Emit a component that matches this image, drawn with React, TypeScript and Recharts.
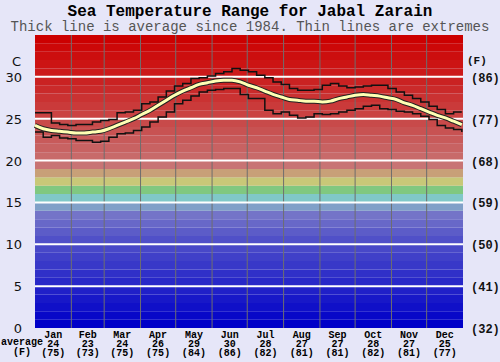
import React from 'react'
import {
	ComposedChart,
	XAxis,
	YAxis,
	Line,
	ReferenceArea,
	ReferenceLine,
} from 'recharts'

// x grid: day of year, one point a week
const days = [
	0, 7, 14, 21, 28, 35, 42, 49, 56, 63, 70, 77, 84, 91, 98, 105, 112, 119, 126,
	133, 140, 147, 154, 161, 168, 175, 182, 189, 196, 203, 210, 217, 224, 231,
	238, 245, 252, 259, 266, 273, 280, 287, 294, 301, 308, 315, 322, 329, 336,
	343, 350, 357, 364,
]

const avgTemp = [
	24.2, 23.8, 23.6, 23.5, 23.4, 23.3, 23.3, 23.4, 23.5, 23.8, 24.2, 24.6, 25.0,
	25.5, 26.0, 26.6, 27.2, 27.8, 28.3, 28.7, 29.1, 29.3, 29.5, 29.6, 29.6, 29.4,
	29.0, 28.7, 28.3, 27.9, 27.6, 27.3, 27.2, 27.1, 27.1, 27.0, 27.1, 27.4, 27.6,
	27.8, 27.9, 27.8, 27.7, 27.5, 27.3, 26.9, 26.6, 26.2, 25.8, 25.4, 25.1, 24.7,
	24.3,
]

const maxTemp = [
	25.7, 25.7, 24.5, 24.3, 24.2, 24.3, 24.3, 24.6, 24.8, 24.9, 25.7, 25.8, 26.0,
	26.8, 27.0, 27.6, 28.3, 28.9, 29.2, 29.8, 29.9, 30.1, 30.4, 30.6, 31.0, 30.8,
	30.6, 30.2, 29.9, 29.4, 29.1, 28.6, 28.4, 28.4, 28.5, 29.0, 29.2, 28.9, 28.7,
	28.8, 28.9, 29.0, 29.0, 28.6, 28.2, 27.8, 27.4, 27.0, 26.5, 26.1, 25.6, 25.8,
	25.8,
]

const minTemp = [
	23.4, 22.8, 23.0, 22.7, 22.6, 22.4, 22.4, 22.2, 22.3, 22.8, 23.2, 23.3, 23.6,
	24.0, 24.6, 25.2, 25.8, 26.8, 27.2, 27.7, 28.2, 28.4, 28.5, 28.6, 28.6, 27.9,
	27.4, 27.4, 26.0, 25.6, 25.8, 25.4, 25.1, 25.2, 25.6, 25.5, 25.6, 25.8, 26.0,
	26.2, 26.5, 26.6, 26.2, 26.1, 25.9, 25.8, 25.6, 25.3, 24.9, 24.2, 23.9, 23.7,
	23.4,
]

const monthNames = ['Jan', 'Feb', 'Mar', 'Apr', 'May', 'Jun', 'Jul', 'Aug', 'Sep', 'Oct', 'Nov', 'Dec']
const monthMid = [15.5, 45, 74.5, 105, 135.5, 166, 196.5, 227.5, 258, 288.5, 319, 349.5]
const monthEdges = [31, 59, 90, 120, 151, 181, 212, 243, 273, 304, 334]
const monthAvgC = [24, 23, 24, 26, 29, 30, 28, 27, 27, 28, 27, 25]
const monthAvgF = [75, 73, 75, 75, 84, 86, 82, 81, 81, 82, 81, 77]

const celsiusTicks = [0, 5, 10, 15, 20, 25, 30]
const fahrenheitLabels = [32, 41, 50, 59, 68, 77, 86]

// one colour per degree band, 0-1 up to 34-35
const bandColors = [
	'#0000c8', '#0808c8', '#1010c8', '#1818c8', '#2020c8',
	'#2828c8', '#3030c8', '#3838c8', '#4040c8', '#4848c8',
	'#5050c8', '#5c5cc8', '#6868c8', '#7474c8', '#80a0c8',
	'#80c8c8', '#80c880', '#c8c878', '#c8a078', '#c87474',
	'#c86a6a', '#c86262', '#c85a5a', '#c85252', '#c84a4a',
	'#ca4242', '#ca3a3a', '#ca3232', '#ca2a2a', '#ca2222',
	'#cc1a1a', '#cc1414', '#cc0e0e', '#cc0808', '#cc0000',
]

const data = days.map((d, i) => ({
	day: d,
	avg: avgTemp[i],
	max: maxTemp[i],
	min: minTemp[i],
}))

const mono = '"Liberation Mono", "DejaVu Sans Mono", monospace'

const MonthTick = (props: any) => {
	const { x, y, index } = props
	return (
		<g fontFamily={mono} fontSize={10} fontWeight='bold' fill='#000' textAnchor='middle'>
			<text x={x} y={y + 2}>{monthNames[index]}</text>
			<text x={x} y={y + 11}>{monthAvgC[index]}</text>
			<text x={x} y={y + 20}>({monthAvgF[index]})</text>
		</g>
	)
}

const CelsiusTick = (props: any) => {
	const { y, payload } = props
	return (
		<text x={22} y={y + 5} textAnchor='end' fontFamily='"DejaVu Sans", sans-serif' fontSize={13} fill='#111'>
			{payload.value}
		</text>
	)
}

const FahrenheitTick = (props: any) => {
	const { x, y, index } = props
	return (
		<text x={x} y={y + 5} textAnchor='start' fontFamily={mono} fontSize={12} fontWeight='bold' fill='#111'>
			({fahrenheitLabels[index]})
		</text>
	)
}

export default function App() {
	return (
		<div style={{ position: 'absolute', left: 0, top: 0, width: 500, height: 362, background: '#e6e6f8', overflow: 'hidden' }}>
			{/* Titles */}
			<div style={{ position: 'absolute', top: 3, width: 500, textAlign: 'center', fontFamily: mono, fontSize: 16, fontWeight: 'bold', color: '#000' }}>
				Sea Temperature Range for Jabal Zarain
			</div>
			<div style={{ position: 'absolute', top: 19, width: 500, textAlign: 'center', fontFamily: mono, fontSize: 14, color: '#555' }}>
				Thick line is average since 1984. Thin lines are extremes
			</div>
			<div style={{ position: 'absolute', top: 54, left: 12, fontFamily: '"DejaVu Sans", sans-serif', fontSize: 13, color: '#111' }}>C</div>
			<div style={{ position: 'absolute', top: 55, left: 467, fontFamily: mono, fontSize: 11, fontWeight: 'bold', color: '#111' }}>(F)</div>
			<div style={{ position: 'absolute', top: 338, left: 1, fontFamily: mono, fontSize: 10, fontWeight: 'bold', color: '#000', lineHeight: '9.5px', textAlign: 'center', width: 42 }}>
				average<br />(F)
			</div>

			<ComposedChart
				width={500}
				height={362}
				data={data}
				margin={{ top: 35, right: 0, bottom: 0, left: 0 }}
			>
				<XAxis
					dataKey='day'
					type='number'
					domain={[0, 365]}
					ticks={monthMid}
					tick={<MonthTick />}
					tickLine={false}
					axisLine={false}
					height={34}
					interval={0}
				/>
				<YAxis
					yAxisId='c'
					type='number'
					domain={[0, 35]}
					ticks={celsiusTicks}
					tick={<CelsiusTick />}
					tickLine={false}
					axisLine={false}
					width={35}
					allowDataOverflow
				/>
				<YAxis
					yAxisId='f'
					orientation='right'
					type='number'
					domain={[0, 35]}
					ticks={celsiusTicks}
					tick={<FahrenheitTick />}
					tickLine={false}
					axisLine={false}
					width={37}
					allowDataOverflow
				/>

				{bandColors.map((c, i) => (
					<ReferenceArea
						key={'b' + i}
						yAxisId='c'
						y1={i}
						y2={i + 1}
						fill={c}
						fillOpacity={1}
						stroke='none'
						ifOverflow='extendDomain'
					/>
				))}

				{monthEdges.map((d) => (
					<ReferenceLine key={'m' + d} yAxisId='c' x={d} stroke='#6e6e6e' strokeWidth={1} />
				))}
				{celsiusTicks.slice(1).map((t) => (
					<ReferenceLine key={'h' + t} yAxisId='c' y={t} stroke='#ffffff' strokeWidth={2} />
				))}

				<Line yAxisId='c' dataKey='max' type='stepAfter' stroke='#111' strokeWidth={1.5} dot={false} isAnimationActive={false} />
				<Line yAxisId='c' dataKey='min' type='stepAfter' stroke='#111' strokeWidth={1.5} dot={false} isAnimationActive={false} />
				<Line yAxisId='c' dataKey='avg' type='monotone' stroke='#222' strokeWidth={5} dot={false} isAnimationActive={false} />
				<Line yAxisId='c' dataKey='avg' type='monotone' stroke='#ffffb4' strokeWidth={3} dot={false} isAnimationActive={false} />
			</ComposedChart>
		</div>
	)
}
